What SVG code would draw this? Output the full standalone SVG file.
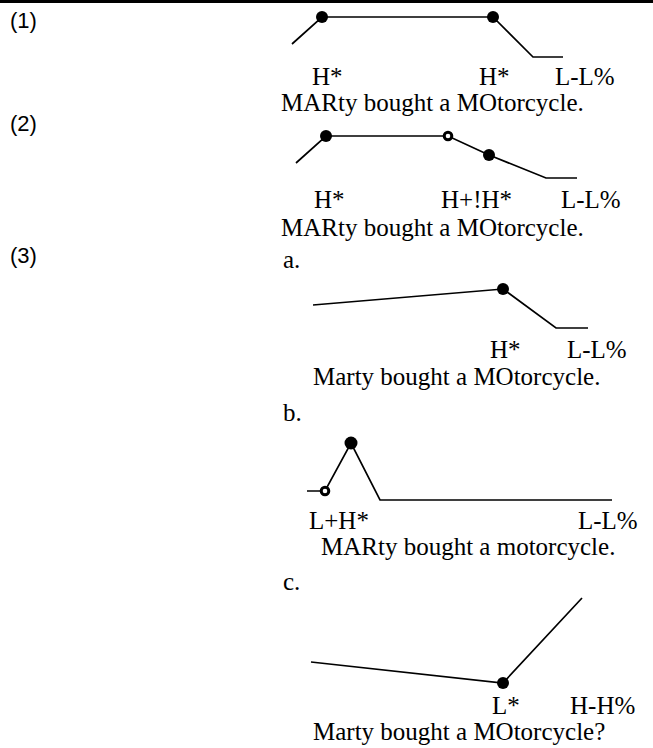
<svg xmlns="http://www.w3.org/2000/svg" width="653" height="748" viewBox="0 0 653 748">
<style>
.num{font-family:"Liberation Sans",Arial,sans-serif;font-size:22px;fill:#000}
.t{font-family:"Liberation Serif","Times New Roman",serif;font-size:25px;fill:#000}
.c{fill:none;stroke:#000;stroke-width:1.7;stroke-linejoin:miter}
.d{fill:#000}
.o{fill:#fff;stroke:#000;stroke-width:3}
</style>
<rect x="0" y="0" width="653" height="3" fill="#000"/>
<g id="ex1">
<text class="num" x="10" y="28">(1)</text>
<g id="ex1-contour">
<path class="c" d="M292,44 L322,17 L493,17 L533,57 L563,57"/>
<circle class="d" cx="322" cy="17" r="6"/>
<circle class="d" cx="493" cy="17" r="6"/>
</g>
<text class="t" x="312" y="85">H*</text>
<text class="t" x="479" y="85">H*</text>
<text class="t" x="555" y="85">L-L%</text>
<text class="t" x="281" y="111">MARty bought a MOtorcycle.</text>
</g>
<g id="ex2">
<text class="num" x="10" y="131">(2)</text>
<g id="ex2-contour">
<path class="c" d="M296,163 L326,136 L448,136 L489,155 L546,178 L577,178"/>
<circle class="d" cx="326" cy="136" r="6"/>
<circle class="o" cx="448" cy="136" r="3.8"/>
<circle class="d" cx="489" cy="155" r="6"/>
</g>
<text class="t" x="314" y="208">H*</text>
<text class="t" x="441" y="208">H+!H*</text>
<text class="t" x="561" y="208">L-L%</text>
<text class="t" x="281" y="236">MARty bought a MOtorcycle.</text>
</g>
<g id="ex3">
<text class="num" x="10" y="263">(3)</text>
<g id="ex3a">
<text class="t" x="283" y="268">a.</text>
<path class="c" d="M313,305 L503,289 L556,328 L588,328"/>
<circle class="d" cx="503" cy="289" r="6"/>
<text class="t" x="490" y="358">H*</text>
<text class="t" x="567" y="358">L-L%</text>
<text class="t" x="313" y="385">Marty bought a MOtorcycle.</text>
</g>
<g id="ex3b">
<text class="t" x="283" y="421">b.</text>
<path class="c" d="M307,491 L325,491 L351,443 L380,500 L612,500"/>
<circle class="o" cx="325" cy="491" r="3.8"/>
<circle class="d" cx="351" cy="443" r="6.5"/>
<text class="t" x="309" y="529">L+H*</text>
<text class="t" x="578" y="529">L-L%</text>
<text class="t" x="321" y="555">MARty bought a motorcycle.</text>
</g>
<g id="ex3c">
<text class="t" x="283" y="590">c.</text>
<path class="c" d="M311,662 L503,683 L582,598"/>
<circle class="d" cx="503" cy="683" r="6"/>
<text class="t" x="492" y="714">L*</text>
<text class="t" x="570" y="714">H-H%</text>
<text class="t" x="313" y="740">Marty bought a MOtorcycle?</text>
</g>
</g>
</svg>
